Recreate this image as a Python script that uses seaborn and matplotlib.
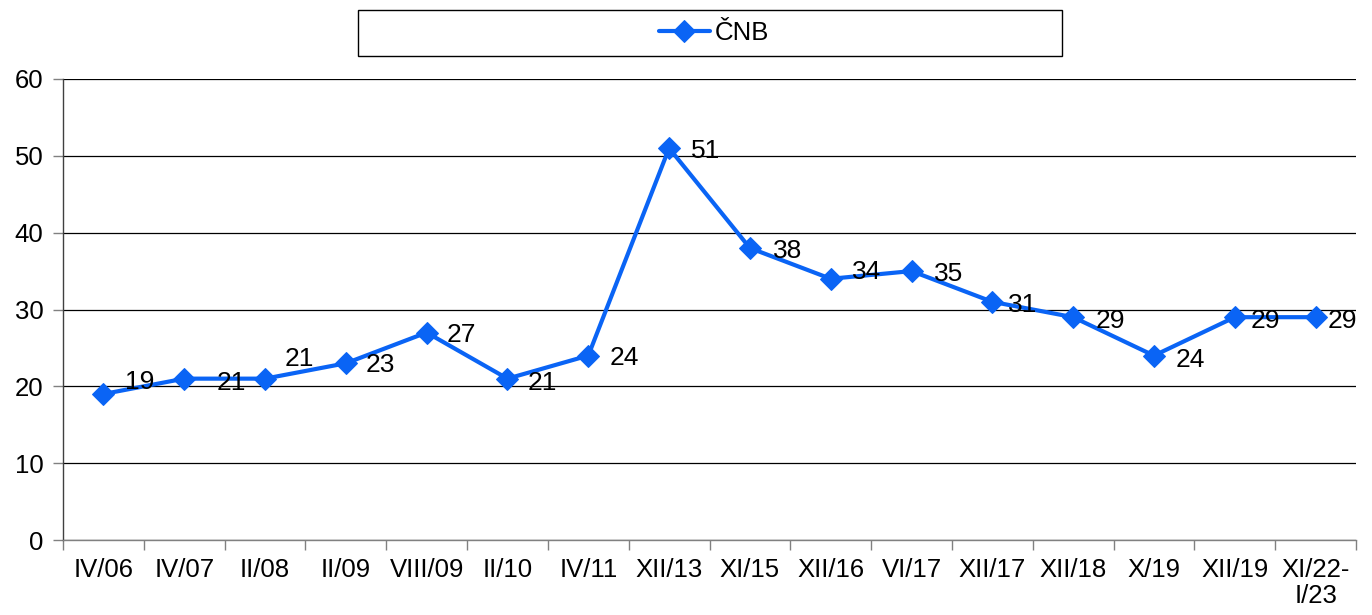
import matplotlib
matplotlib.use("Agg")
import matplotlib.pyplot as plt
from matplotlib.patches import Rectangle
from matplotlib.ticker import FixedLocator, NullFormatter
import seaborn as sns
import pandas as pd

# data
periods = ["IV/06", "IV/07", "II/08", "II/09", "VIII/09", "II/10", "IV/11", "XII/13",
           "XI/15", "XII/16", "VI/17", "XII/17", "XII/18", "X/19", "XII/19", "XI/22-\nI/23"]
cnb = [19, 21, 21, 23, 27, 21, 24, 51, 38, 34, 35, 31, 29, 24, 29, 29]
series_name = "ČNB"

# label offsets in points (dx, dy), to mimic the reference placement
label_dx = [26, 34, 25, 25, 25, 25, 26, 26, 27, 26, 27, 22, 27, 26, 22, 19]
label_dy = [9, -3, 14, -1, -2, -3, -2, -2, -2, 5, -2, -2, -3, -3, -3, -3]

BLUE = "#0A64F5"

sns.set_theme(style="white")
plt.rcParams["font.family"] = ["Liberation Sans", "DejaVu Sans"]
plt.rcParams["text.color"] = "black"

df = pd.DataFrame({"pos": range(len(periods)), "val": cnb})

fig = plt.figure(figsize=(13.72, 6.15), dpi=100)
ax = fig.add_axes([63 / 1372, 1 - 540 / 615, (1356 - 63) / 1372, (540 - 79) / 615])

sns.lineplot(data=df, x="pos", y="val", ax=ax, color=BLUE, linewidth=3,
             marker="D", markersize=11, markeredgecolor=BLUE, label=series_name)

for i, v in enumerate(cnb):
    ax.annotate(str(v), (i, v), xytext=(label_dx[i], label_dy[i]), textcoords="offset points",
                ha="center", va="center", fontsize=19, color="black")

ax.set_xlim(-0.5, len(periods) - 0.5)
ax.set_ylim(0, 60)
ax.set_yticks(range(0, 61, 10))
ax.yaxis.grid(True, color="black", linewidth=0.9)
ax.set_axisbelow(True)

ax.xaxis.set_major_locator(FixedLocator([i - 0.5 for i in range(len(periods) + 1)]))
ax.xaxis.set_major_formatter(NullFormatter())
ax.xaxis.set_minor_locator(FixedLocator(range(len(periods))))
ax.set_xticklabels(periods, minor=True, fontsize=18.5, va="top", ha="center", linespacing=1.1)
ax.tick_params(axis="x", which="major", length=7, color="#808080", width=1, direction="out", bottom=True)
ax.tick_params(axis="x", which="minor", length=0, pad=13, labelcolor="black")
ax.tick_params(axis="y", length=7, color="#808080", width=1, direction="out", left=True,
               labelsize=18.5, pad=7, labelcolor="black")

ax.set_xlabel("")
ax.set_ylabel("")
for s in ["top", "right"]:
    ax.spines[s].set_visible(False)
ax.spines["left"].set_color("#404040")
ax.spines["bottom"].set_color("#808080")
ax.spines["left"].set_linewidth(1)
ax.spines["bottom"].set_linewidth(1)

# legend box at the top
ax.get_legend().remove()
fig.add_artist(Rectangle((358 / 1372, 1 - 56 / 615), 704 / 1372, 46 / 615,
                         transform=fig.transFigure, fill=False, edgecolor="black", linewidth=1))
handles, labels = ax.get_legend_handles_labels()
fig.legend(handles, labels, loc="center", bbox_to_anchor=(714 / 1372, 1 - 33 / 615),
           frameon=False, fontsize=18.5, handlelength=2.0, handletextpad=0.2, labelcolor="black")

fig.savefig("out.png", dpi=100)
